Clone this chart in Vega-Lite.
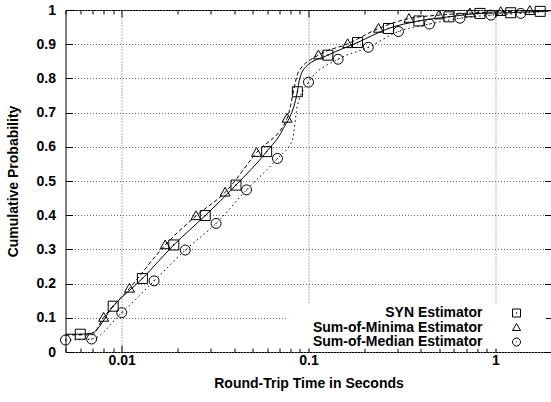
{
  "$schema": "https://vega.github.io/schema/vega-lite/v6.json",
  "width": 486,
  "height": 342,
  "autosize": {"type": "none"},
  "padding": {"left": 65.5, "top": 10, "right": 0, "bottom": 50},
  "background": "white",
  "config": {
    "font": "Liberation Sans",
    "view": {"stroke": "black", "strokeWidth": 1},
    "axis": {
      "labelFont": "Liberation Sans",
      "labelFontWeight": "bold",
      "labelFontSize": 14,
      "labelColor": "black",
      "titleFont": "Liberation Sans",
      "titleFontWeight": "bold",
      "titleFontSize": 14,
      "titleColor": "black",
      "tickColor": "black",
      "tickWidth": 1,
      "domain": false,
      "gridColor": "#666666",
      "gridDash": [1, 2],
      "gridWidth": 1
    }
  },
  "data": {
    "values": [
      {"s": "SYN Estimator", "t": 0.005, "p": 0.052, "m": 0},
      {"s": "SYN Estimator", "t": 0.006, "p": 0.052, "m": 1},
      {"s": "SYN Estimator", "t": 0.0069, "p": 0.055, "m": 0},
      {"s": "SYN Estimator", "t": 0.009, "p": 0.134, "m": 1},
      {"s": "SYN Estimator", "t": 0.0129, "p": 0.215, "m": 1},
      {"s": "SYN Estimator", "t": 0.019, "p": 0.313, "m": 1},
      {"s": "SYN Estimator", "t": 0.028, "p": 0.399, "m": 1},
      {"s": "SYN Estimator", "t": 0.0409, "p": 0.488, "m": 1},
      {"s": "SYN Estimator", "t": 0.0597, "p": 0.586, "m": 1},
      {"s": "SYN Estimator", "t": 0.0726, "p": 0.649, "m": 0},
      {"s": "SYN Estimator", "t": 0.0872, "p": 0.761, "m": 1},
      {"s": "SYN Estimator", "t": 0.0893, "p": 0.795, "m": 0},
      {"s": "SYN Estimator", "t": 0.0968, "p": 0.834, "m": 0},
      {"s": "SYN Estimator", "t": 0.127, "p": 0.868, "m": 1},
      {"s": "SYN Estimator", "t": 0.183, "p": 0.905, "m": 1},
      {"s": "SYN Estimator", "t": 0.268, "p": 0.946, "m": 1},
      {"s": "SYN Estimator", "t": 0.39, "p": 0.968, "m": 1},
      {"s": "SYN Estimator", "t": 0.565, "p": 0.98, "m": 1},
      {"s": "SYN Estimator", "t": 0.828, "p": 0.99, "m": 1},
      {"s": "SYN Estimator", "t": 1.21, "p": 0.992, "m": 1},
      {"s": "SYN Estimator", "t": 1.74, "p": 0.996, "m": 1},
      {"s": "SYN Estimator", "t": 2.0, "p": 0.998, "m": 0},

      {"s": "Sum-of-Minima Estimator", "t": 0.005, "p": 0.05, "m": 0},
      {"s": "Sum-of-Minima Estimator", "t": 0.0069, "p": 0.05, "m": 0},
      {"s": "Sum-of-Minima Estimator", "t": 0.008, "p": 0.101, "m": 1},
      {"s": "Sum-of-Minima Estimator", "t": 0.011, "p": 0.186, "m": 1},
      {"s": "Sum-of-Minima Estimator", "t": 0.0171, "p": 0.313, "m": 1},
      {"s": "Sum-of-Minima Estimator", "t": 0.025, "p": 0.398, "m": 1},
      {"s": "Sum-of-Minima Estimator", "t": 0.0358, "p": 0.467, "m": 1},
      {"s": "Sum-of-Minima Estimator", "t": 0.0527, "p": 0.583, "m": 1},
      {"s": "Sum-of-Minima Estimator", "t": 0.0768, "p": 0.683, "m": 1},
      {"s": "Sum-of-Minima Estimator", "t": 0.0886, "p": 0.82, "m": 0},
      {"s": "Sum-of-Minima Estimator", "t": 0.113, "p": 0.868, "m": 1},
      {"s": "Sum-of-Minima Estimator", "t": 0.162, "p": 0.901, "m": 1},
      {"s": "Sum-of-Minima Estimator", "t": 0.237, "p": 0.946, "m": 1},
      {"s": "Sum-of-Minima Estimator", "t": 0.345, "p": 0.975, "m": 1},
      {"s": "Sum-of-Minima Estimator", "t": 0.5, "p": 0.985, "m": 1},
      {"s": "Sum-of-Minima Estimator", "t": 0.731, "p": 0.991, "m": 1},
      {"s": "Sum-of-Minima Estimator", "t": 1.07, "p": 0.995, "m": 1},
      {"s": "Sum-of-Minima Estimator", "t": 1.53, "p": 0.998, "m": 1},
      {"s": "Sum-of-Minima Estimator", "t": 2.0, "p": 1.0, "m": 0},

      {"s": "Sum-of-Median Estimator", "t": 0.005, "p": 0.035, "m": 1},
      {"s": "Sum-of-Median Estimator", "t": 0.0069, "p": 0.038, "m": 1},
      {"s": "Sum-of-Median Estimator", "t": 0.01, "p": 0.115, "m": 1},
      {"s": "Sum-of-Median Estimator", "t": 0.0149, "p": 0.208, "m": 1},
      {"s": "Sum-of-Median Estimator", "t": 0.0219, "p": 0.298, "m": 1},
      {"s": "Sum-of-Median Estimator", "t": 0.032, "p": 0.376, "m": 1},
      {"s": "Sum-of-Median Estimator", "t": 0.0466, "p": 0.474, "m": 1},
      {"s": "Sum-of-Median Estimator", "t": 0.0682, "p": 0.566, "m": 1},
      {"s": "Sum-of-Median Estimator", "t": 0.082, "p": 0.62, "m": 0},
      {"s": "Sum-of-Median Estimator", "t": 0.087, "p": 0.717, "m": 0},
      {"s": "Sum-of-Median Estimator", "t": 0.1, "p": 0.789, "m": 1},
      {"s": "Sum-of-Median Estimator", "t": 0.144, "p": 0.856, "m": 1},
      {"s": "Sum-of-Median Estimator", "t": 0.209, "p": 0.891, "m": 1},
      {"s": "Sum-of-Median Estimator", "t": 0.303, "p": 0.937, "m": 1},
      {"s": "Sum-of-Median Estimator", "t": 0.444, "p": 0.959, "m": 1},
      {"s": "Sum-of-Median Estimator", "t": 0.647, "p": 0.976, "m": 1},
      {"s": "Sum-of-Median Estimator", "t": 0.948, "p": 0.985, "m": 1},
      {"s": "Sum-of-Median Estimator", "t": 1.37, "p": 0.99, "m": 1},
      {"s": "Sum-of-Median Estimator", "t": 2.0, "p": 0.997, "m": 0}
    ]
  },
  "layer": [
    {
      "transform": [{"filter": "datum.s == 'SYN Estimator'"}],
      "mark": {"type": "line", "interpolate": "monotone", "color": "black", "strokeWidth": 1, "clip": true},
      "encoding": {
        "x": {
          "field": "t", "type": "quantitative",
          "scale": {"type": "log", "domain": [0.005, 2], "nice": false},
          "axis": {
            "orient": "bottom",
            "title": "Round-Trip Time in Seconds",
            "titlePadding": 9,
            "values": [0.005, 0.006, 0.007, 0.008, 0.009, 0.01, 0.02, 0.03, 0.04, 0.05, 0.06, 0.07, 0.08, 0.09, 0.1, 0.2, 0.3, 0.4, 0.5, 0.6, 0.7, 0.8, 0.9, 1, 2],
            "labelExpr": "datum.value == 0.01 ? '0.01' : datum.value == 0.1 ? '0.1' : datum.value == 1 ? '1' : ''",
            "labelPadding": 8,
            "labelFlush": false,
            "tickSize": {"condition": {"test": "datum.value == 0.01 || datum.value == 0.1 || datum.value == 1", "value": -7}, "value": -4},
            "grid": true,
            "gridOpacity": {"condition": {"test": "datum.value == 0.01 || datum.value == 0.1 || datum.value == 1", "value": 1}, "value": 0}
          }
        },
        "y": {
          "field": "p", "type": "quantitative",
          "scale": {"domain": [0, 1], "nice": false},
          "axis": {
            "orient": "left",
            "title": "Cumulative Probability",
            "titlePadding": 16,
            "values": [0, 0.1, 0.2, 0.3, 0.4, 0.5, 0.6, 0.7, 0.8, 0.9, 1],
            "format": ".1~f",
            "labelPadding": 17,
            "tickSize": -7,
            "grid": true
          }
        },
        "opacity": {
          "field": "s", "type": "ordinal",
          "scale": {
            "type": "ordinal",
            "domain": ["Sum-of-Median Estimator", "Sum-of-Minima Estimator", "SYN Estimator"],
            "range": [1, 1, 1]
          },
          "legend": {
            "title": null,
            "orient": "none",
            "direction": "horizontal",
            "legendX": 222.5,
            "legendY": 293,
            "zindex": 0,
            "padding": 0,
            "columnPadding": 0,
            "clipHeight": 45.4,
            "symbolType": "M-1,-0.53H1V0.53H-1Z",
            "symbolSize": 7344,
            "symbolStrokeWidth": 0,
            "symbolStrokeColor": "white",
            "symbolFillColor": "white",
            "labelExpr": "''",
            "labelOffset": 0
          }
        }
      }
    },
    {
      "transform": [{"filter": "datum.s == 'Sum-of-Minima Estimator'"}],
      "mark": {"type": "line", "interpolate": "monotone", "color": "black", "strokeWidth": 1, "strokeDash": [4, 2.5], "clip": true},
      "encoding": {
        "x": {"field": "t", "type": "quantitative", "axis": null},
        "y": {"field": "p", "type": "quantitative", "axis": null}
      }
    },
    {
      "transform": [{"filter": "datum.s == 'Sum-of-Median Estimator'"}],
      "mark": {"type": "line", "interpolate": "monotone", "color": "black", "strokeWidth": 1, "strokeDash": [1.5, 3], "clip": true},
      "encoding": {
        "x": {"field": "t", "type": "quantitative", "axis": null},
        "y": {"field": "p", "type": "quantitative", "axis": null}
      }
    },
    {
      "transform": [{"filter": "datum.m == 1"}],
      "mark": {"type": "point", "filled": false, "stroke": "black", "strokeWidth": 1, "size": 100, "opacity": 1},
      "encoding": {
        "x": {
          "field": "t", "type": "quantitative",
          "axis": {
            "orient": "top", "title": null, "labels": false, "grid": false,
            "values": [0.005, 0.006, 0.007, 0.008, 0.009, 0.01, 0.02, 0.03, 0.04, 0.05, 0.06, 0.07, 0.08, 0.09, 0.1, 0.2, 0.3, 0.4, 0.5, 0.6, 0.7, 0.8, 0.9, 1, 2],
            "tickSize": {"condition": {"test": "datum.value == 0.01 || datum.value == 0.1 || datum.value == 1", "value": -7}, "value": -4}
          }
        },
        "y": {
          "field": "p", "type": "quantitative",
          "axis": {
            "orient": "right", "title": null, "labels": false, "grid": false,
            "values": [0, 0.1, 0.2, 0.3, 0.4, 0.5, 0.6, 0.7, 0.8, 0.9, 1],
            "tickSize": -7
          }
        },
        "shape": {
          "field": "s", "type": "nominal",
          "scale": {
            "domain": ["SYN Estimator", "Sum-of-Minima Estimator", "Sum-of-Median Estimator"],
            "range": [
              "M-1,-1H1V1H-1Z M-0.06,-0.06H0.06V0.06H-0.06Z",
              "M0,-1L1,0.75L-1,0.75Z",
              "M-1,0A1,1,0,1,0,1,0A1,1,0,1,0,-1,0Z M-0.06,0A0.06,0.06,0,1,0,0.06,0A0.06,0.06,0,1,0,-0.06,0Z"
            ]
          },
          "legend": {
            "title": null,
            "orient": "none",
            "legendX": 444,
            "legendY": 296,
            "zindex": 1,
            "padding": 0,
            "symbolSize": 64,
            "symbolStrokeColor": "black",
            "symbolFillColor": "transparent",
            "symbolStrokeWidth": 1,
            "labelAlign": "right",
            "labelOffset": -41,
            "labelLimit": 0,
            "labelFont": "Liberation Sans",
            "labelFontWeight": "bold",
            "labelFontSize": 14,
            "labelColor": "black",
            "rowPadding": 0.5
          }
        }
      }
    }
  ],
  "resolve": {"axis": {"x": "independent", "y": "independent"}}
}
